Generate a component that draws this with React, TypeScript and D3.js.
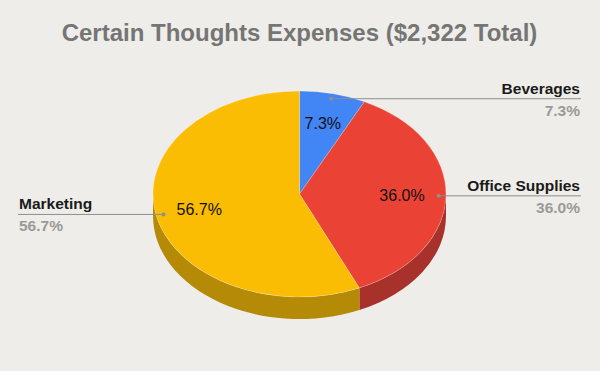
import React from "react";
import * as d3 from "d3";

const categories = ["Beverages", "Office Supplies", "Marketing"];
const values = [7.3, 36.0, 56.7];
const topColors = ["#4285f4", "#ea4335", "#fbbc04"];
const sideColors = ["#2e5fb0", "#a8322b", "#b58a06"];
const title = "Certain Thoughts Expenses ($2,322 Total)";

const W = 600;
const H = 371;
const cx = 299.5;
const cy = 194;
const rx = 146.5;
const ry = 103;
const depth = 22;

const pt = (a: number, f = 1, dy = 0): [number, number] => [
  cx + rx * f * Math.sin(a),
  cy - ry * f * Math.cos(a) + dy,
];

export default function App() {
  const arcs = d3.pie<number>().sort(null).value((d) => d)(values);
  const fmt = (v: number) => d3.format(".1f")(v) + "%";

  const topPath = (a0: number, a1: number) => {
    const p0 = pt(a0);
    const p1 = pt(a1);
    const large = a1 - a0 > Math.PI ? 1 : 0;
    return `M${cx},${cy}L${p0[0]},${p0[1]}A${rx},${ry} 0 ${large} 1 ${p1[0]},${p1[1]}Z`;
  };

  const sidePath = (a0: number, a1: number) => {
    const s = Math.max(a0, Math.PI / 2);
    const e = Math.min(a1, (3 * Math.PI) / 2);
    if (e <= s) return null;
    const ps = pt(s);
    const pe = pt(e);
    const pe2 = pt(e, 1, depth);
    const ps2 = pt(s, 1, depth);
    return `M${ps[0]},${ps[1]}A${rx},${ry} 0 0 1 ${pe[0]},${pe[1]}L${pe2[0]},${pe2[1]}A${rx},${ry} 0 0 0 ${ps2[0]},${ps2[1]}Z`;
  };

  return (
    <svg
      width={W}
      height={H}
      style={{ position: "absolute", left: 0, top: 0, display: "block" }}
      fontFamily="'Liberation Sans', Arial, sans-serif"
    >
      <rect width={W} height={H} fill="#eeede9" />
      <text
        x={299.5}
        y={41}
        textAnchor="middle"
        fontSize={24}
        fontWeight="bold"
        fill="#757575"
      >
        {title}
      </text>

      {arcs.map((a, i) => {
        const d = sidePath(a.startAngle, a.endAngle);
        return d ? <path key={"s" + i} d={d} fill={sideColors[i]} /> : null;
      })}
      {arcs.map((a, i) => (
        <path
          key={"t" + i}
          d={topPath(a.startAngle, a.endAngle)}
          fill={topColors[i]}
          stroke="#ffffff"
          strokeOpacity={0.35}
          strokeWidth={0.6}
        />
      ))}

      {arcs.map((a, i) => {
        const mid = (a.startAngle + a.endAngle) / 2;
        const [lx, ly] = pt(mid, 0.7);
        return (
          <text
            key={"in" + i}
            x={lx}
            y={ly + 5.5}
            textAnchor="middle"
            fontSize={16}
            fill="#111"
          >
            {fmt(values[i])}
          </text>
        );
      })}

      {arcs.map((a, i) => {
        const mid = (a.startAngle + a.endAngle) / 2;
        const [dx, dy] = pt(mid, 0.95);
        const right = Math.sin(mid) > 0;
        const tx = right ? 580 : 19;
        return (
          <g key={"out" + i}>
            <line
              x1={dx}
              y1={dy}
              x2={right ? 581 : 18}
              y2={dy}
              stroke="#8f8f8f"
              strokeWidth={1}
            />
            <circle cx={dx} cy={dy} r={2} fill="#8f8f8f" />
            <text
              x={tx}
              y={dy - 5}
              textAnchor={right ? "end" : "start"}
              fontSize={15.5}
              fontWeight="bold"
              fill="#1a1a1a"
            >
              {categories[i]}
            </text>
            <text
              x={tx}
              y={dy + 17}
              textAnchor={right ? "end" : "start"}
              fontSize={15.5}
              fontWeight="bold"
              fill="#9a9a9a"
            >
              {fmt(values[i])}
            </text>
          </g>
        );
      })}
    </svg>
  );
}
